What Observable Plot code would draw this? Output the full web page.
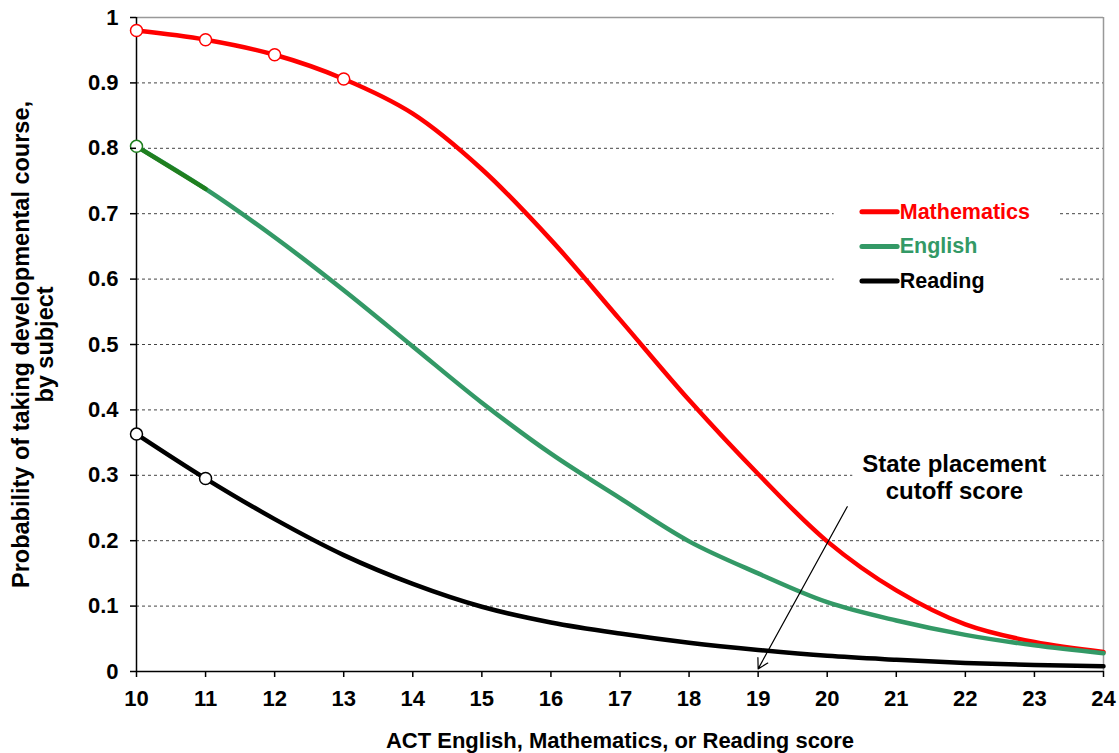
<!DOCTYPE html>
<html>
<head>
<meta charset="utf-8">
<script src="https://cdn.jsdelivr.net/npm/d3@7"></script>
<script src="https://cdn.jsdelivr.net/npm/@observablehq/plot@0.6"></script>
<style>
  html, body { margin: 0; padding: 0; background: #fff; }
  #chart { width: 1119px; height: 753px; }
</style>
</head>
<body>
<div id="chart"></div>
<script>
// ---- data ----
const scores = [10, 11, 12, 13, 14, 15, 16, 17, 18, 19, 20, 21, 22, 23, 24];
const mathematics = [0.980, 0.966, 0.943, 0.906, 0.853, 0.768, 0.660, 0.538, 0.415, 0.302, 0.199, 0.124, 0.072, 0.045, 0.030];
const english     = [0.803, 0.738, 0.664, 0.583, 0.497, 0.411, 0.333, 0.265, 0.199, 0.150, 0.106, 0.078, 0.056, 0.040, 0.028];
const reading     = [0.363, 0.295, 0.233, 0.178, 0.134, 0.099, 0.075, 0.058, 0.044, 0.033, 0.024, 0.018, 0.013, 0.010, 0.008];

const mathMarkers = [10, 11, 12, 13];
const englishMarkers = [10];
const readingMarkers = [10, 11];

const seriesNames = ["Mathematics", "English", "Reading"];
const seriesColors = ["#ff0000", "#339966", "#000000"];
const englishEarlyColor = "#1f7f1f";

const xTicks = [10, 11, 12, 13, 14, 15, 16, 17, 18, 19, 20, 21, 22, 23, 24];
const yTicks = [0, 0.1, 0.2, 0.3, 0.4, 0.5, 0.6, 0.7, 0.8, 0.9, 1];
const gridValues = [0.1, 0.2, 0.3, 0.4, 0.5, 0.6, 0.7, 0.8, 0.9];

const xTitle = "ACT English, Mathematics, or Reading score";
const yTitle = "Probability of taking developmental course,\nby subject";
const noteText = "State placement\ncutoff score";
const cutoffScore = 19;

// ---- build tables ----
const toRows = (vals) => scores.map((s, i) => ({x: s, y: vals[i]}));
const mathRows = toRows(mathematics);
const engRows = toRows(english);
const readRows = toRows(reading);
const pick = (rows, xs) => rows.filter(d => xs.includes(d.x));

// annotation placement (data space)
const legendItems = seriesNames.map((n, i) => ({name: n, color: seriesColors[i], y: [0.703, 0.650, 0.597][i]}));
const legendBox = [{x1: 20.1, x2: 23.36, y1: 0.57, y2: 0.74}];
const noteBox = [{x1: 20.37, x2: 23.38, y1: 0.275, y2: 0.325}];
const noteRow = [{x: 21.84, y: 0.297, text: noteText}];
const arrowRow = [{x1: 20.29, y1: 0.252, x2: cutoffScore, y2: 0.004}];

const font = "'Liberation Sans', Arial, Helvetica, sans-serif";

const chart = Plot.plot({
  width: 1119,
  height: 753,
  marginLeft: 136,
  marginRight: 16,
  marginTop: 17,
  marginBottom: 82,
  style: {fontFamily: font, fontSize: "22px", fontWeight: "bold", color: "#000", background: "#fff", overflow: "visible"},
  x: {domain: [10, 24]},
  y: {domain: [0, 1]},
  marks: [
    // grid
    Plot.ruleY(gridValues, {stroke: "#444", strokeWidth: 1, strokeDasharray: "3,3"}),
    // frame top / right
    Plot.ruleY([1], {stroke: "#999", strokeWidth: 1.5}),
    Plot.ruleX([24], {stroke: "#999", strokeWidth: 1.5}),
    // white boxes behind legend and note
    Plot.rect(legendBox, {x1: "x1", x2: "x2", y1: "y1", y2: "y2", fill: "#fff"}),
    Plot.rect(noteBox, {x1: "x1", x2: "x2", y1: "y1", y2: "y2", fill: "#fff"}),
    // curves
    Plot.line(mathRows, {x: "x", y: "y", stroke: seriesColors[0], strokeWidth: 4.5, curve: "catmull-rom"}),
    Plot.line(engRows, {x: "x", y: "y", stroke: seriesColors[1], strokeWidth: 4.5, curve: "catmull-rom"}),
    Plot.line(engRows.filter(d => d.x <= 11), {x: "x", y: "y", stroke: englishEarlyColor, strokeWidth: 4.5}),
    Plot.line(readRows, {x: "x", y: "y", stroke: seriesColors[2], strokeWidth: 4.5, curve: "catmull-rom"}),
    // axes lines
    Plot.ruleX([10], {stroke: "#000", strokeWidth: 1.5}),
    Plot.ruleY([0], {stroke: "#000", strokeWidth: 1.5}),
    // markers
    Plot.dot(pick(mathRows, mathMarkers), {x: "x", y: "y", r: 6, stroke: seriesColors[0], fill: "#fff", strokeWidth: 1.5}),
    Plot.dot(pick(engRows, englishMarkers), {x: "x", y: "y", r: 6, stroke: englishEarlyColor, fill: "#fff", strokeWidth: 1.5}),
    Plot.dot(pick(readRows, readingMarkers), {x: "x", y: "y", r: 6, stroke: seriesColors[2], fill: "#fff", strokeWidth: 1.5}),
    // axes
    Plot.axisX({ticks: xTicks, tickSize: 6, tickPadding: 13, tickFormat: d => String(d), fontSize: 22, fontWeight: "bold", label: null, strokeWidth: 1.5}),
    Plot.axisY({ticks: yTicks, tickSize: 6, tickPadding: 12, tickFormat: d => String(+(+d).toFixed(1)), fontSize: 22, fontWeight: "bold", label: null, strokeWidth: 1.5}),
    // titles
    Plot.text([xTitle], {frameAnchor: "bottom", dy: 69, text: d => d, fontSize: 22, fontWeight: "bold", lineAnchor: "middle", textAnchor: "middle"}),
    Plot.text([yTitle], {frameAnchor: "left", dx: -103, rotate: -90, text: d => d, fontSize: 23.5, fontWeight: "bold", lineHeight: 0.99, lineAnchor: "middle", textAnchor: "middle"}),
    // legend
    Plot.ruleY(legendItems, {y: "y", x1: 20.51, x2: 21.02, stroke: "color", strokeWidth: 5, strokeLinecap: "round"}),
    Plot.text(legendItems, {x: 21.05, y: "y", text: "name", fill: "color", textAnchor: "start", fontSize: 21.5, fontWeight: "bold"}),
    // note + arrow
    Plot.text(noteRow, {x: "x", y: "y", text: "text", fontSize: 24, fontWeight: "bold", lineHeight: 1.12}),
    Plot.arrow(arrowRow, {x1: "x1", y1: "y1", x2: "x2", y2: "y2", stroke: "#000", strokeWidth: 1.2, headLength: 14})
  ]
});

document.getElementById("chart").appendChild(chart);
</script>
</body>
</html>
